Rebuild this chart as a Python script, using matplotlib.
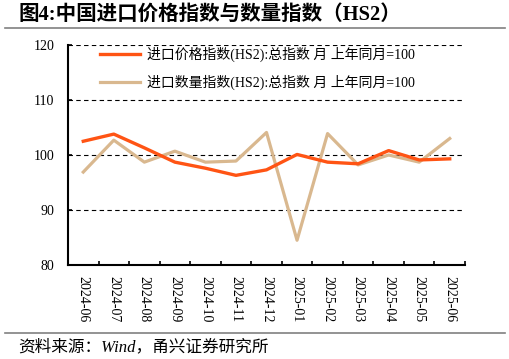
import matplotlib
matplotlib.use("Agg")
import matplotlib.pyplot as plt
from matplotlib.lines import Line2D

plt.rcParams["font.family"] = ["Liberation Serif", "Noto Sans CJK SC", "DejaVu Sans"]

# 数据
months = ["2024-06", "2024-07", "2024-08", "2024-09", "2024-10", "2024-11", "2024-12",
          "2025-01", "2025-02", "2025-03", "2025-04", "2025-05", "2025-06"]
price_index = [102.5, 103.8, 101.3, 98.7, 97.6, 96.3, 97.3,
               100.1, 98.7, 98.4, 100.8, 99.1, 99.3]
volume_index = [96.9, 102.7, 98.7, 100.7, 98.7, 98.9, 104.1,
                84.5, 103.9, 98.2, 100.0, 98.7, 103.0]

price_label = "进口价格指数(HS2):总指数 月 上年同月=100"
volume_label = "进口数量指数(HS2):总指数 月 上年同月=100"
price_color = "#FF5414"
volume_color = "#D9B88F"

W, H = 509, 359
fig = plt.figure(figsize=(W / 100, H / 100), dpi=100)
ax = fig.add_axes([68 / W, 1 - 265 / H, (465 - 68) / W, (265 - 45) / H])

x = list(range(len(months)))
ax.plot(x, price_index, color=price_color, lw=2.4, label=price_label, zorder=3)
ax.plot(x, volume_index, color=volume_color, lw=2.3, label=volume_label, zorder=2)

ax.set_xlim(-0.5, len(months) - 0.5)
ax.set_ylim(80, 120)
ax.set_yticks([80, 90, 100, 110, 120])
ax.set_xticks(x)
ax.set_xticklabels(months, rotation=270, fontsize=10)
ax.set_xticks([i + 0.5 for i in x], minor=True)
ax.tick_params(axis="x", which="major", length=0, pad=8)
ax.tick_params(axis="x", which="minor", direction="in", length=3, width=1.2)
ax.tick_params(axis="y", direction="in", length=3, width=1.2, labelsize=10, pad=10)

ax.grid(axis="y", color="black", linestyle=(0, (4, 3)), linewidth=0.8)
ax.set_axisbelow(True)
for s in ["top", "right"]:
    ax.spines[s].set_visible(False)
for s in ["left", "bottom"]:
    ax.spines[s].set_linewidth(1.5)

ax.legend(loc="upper left", bbox_to_anchor=((100 - 68) / 397, 0.99), frameon=False,
          fontsize=10, handlelength=2.9, handletextpad=0.45, labelspacing=0.9,
          borderpad=0, borderaxespad=0)

fig.text(18 / W, 1 - 15 / H, "图4:中国进口价格指数与数量指数（HS2）", fontsize=14.8,
         fontweight="bold", va="center", ha="left")
fig.add_artist(Line2D([5 / W, 505 / W], [1 - 28 / H, 1 - 28 / H], color="#808080", lw=1.2))
fig.add_artist(Line2D([5 / W, 505 / W], [1 - 333 / H, 1 - 333 / H], color="#808080", lw=1.2))
fig.text(18 / W, 1 - 347 / H, "资料来源：Wind，甬兴证券研究所", fontsize=12,
         style="italic", va="center", ha="left")

fig.savefig("out.png", dpi=100)
